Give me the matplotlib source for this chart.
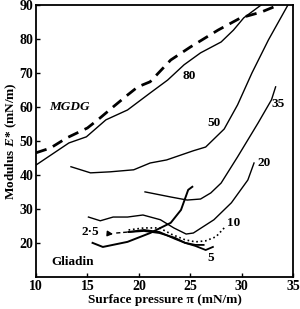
import matplotlib
matplotlib.use("Agg")
import matplotlib.pyplot as plt

plt.rcParams['font.family'] = ['Liberation Serif', 'DejaVu Serif']
plt.rcParams['font.weight'] = 'bold'
plt.rcParams['axes.labelweight'] = 'bold'
plt.rcParams['mathtext.fontset'] = 'custom'
plt.rcParams['mathtext.it'] = 'Liberation Serif:italic:bold'
plt.rcParams['mathtext.rm'] = 'Liberation Serif:bold'

# MGDG (dashed)
mgdg_x = [10, 11.4, 13.0, 15.0, 16.25, 17.5, 18.9, 19.9, 21.1, 23.1, 25.0, 27.7, 29.9, 31.9, 33.6]
mgdg_y = [46.5, 47.9, 50.9, 53.8, 56.8, 60.0, 63.5, 65.9, 67.4, 73.8, 77.6, 82.6, 86.2, 87.9, 90]

# labelled curves
c80_x = [10, 13.2, 14.9, 16.8, 18.9, 21.1, 22.8, 24.4, 26.0, 28.0, 29.2, 30.2, 31.9]
c80_y = [42.9, 49.4, 51.2, 56.2, 59.1, 64.1, 67.9, 72.4, 75.9, 79.1, 82.6, 86.2, 90]

c50_x = [13.4, 15.3, 17.2, 19.5, 21.1, 22.7, 25.3, 26.5, 28.3, 29.6, 31.0, 32.6, 34.5]
c50_y = [42.4, 40.6, 40.9, 41.5, 43.5, 44.4, 47.1, 48.2, 53.5, 60.6, 70.0, 79.7, 90]

c35_x = [20.6, 23.1, 24.7, 26.0, 27.0, 28.0, 29.6, 31.6, 32.9, 33.3]
c35_y = [35.0, 33.5, 32.6, 32.9, 34.7, 37.6, 45.3, 55.3, 62.1, 65.9]

c20_x = [15.1, 16.25, 17.5, 18.9, 20.4, 22.1, 23.4, 24.6, 25.3, 27.3, 29.0, 30.6, 31.2]
c20_y = [27.6, 26.5, 27.6, 27.6, 28.2, 26.8, 24.4, 22.6, 22.9, 26.8, 31.8, 38.5, 43.5]

c10_x = [19.0, 20.5, 22.0, 23.2, 24.5, 25.5, 26.5, 27.5, 28.3]
c10_y = [23.8, 24.4, 24.4, 22.5, 20.9, 20.3, 20.6, 21.8, 24.4]

c5_x = [19.0, 20.5, 22.0, 23.5, 24.5, 25.5, 26.5, 27.2]
c5_y = [23.2, 23.5, 22.9, 21.5, 20.0, 19.1, 17.9, 18.8]

c25_dash_x = [17.8, 19.0]
c25_dash_y = [22.9, 23.2]
c25_x = [19.0, 20.5, 22.0, 23.5, 24.5, 25.5, 26.3]
c25_y = [23.2, 23.8, 23.2, 21.2, 20.0, 19.4, 19.4]

# gliadin (steep thick line)
gli_x = [15.5, 16.5, 18.9, 21.1, 23.1, 24.1, 24.8, 25.2]
gli_y = [20.0, 18.8, 20.3, 22.9, 25.9, 29.7, 35.6, 36.5]

fig = plt.figure(figsize=(3.0, 3.09), dpi=100)
ax = fig.add_axes([0.12, 0.104, 0.857, 0.88])

ax.plot(mgdg_x, mgdg_y, 'k--', lw=2.0, dashes=(4, 2.5))
ax.plot(c80_x, c80_y, 'k-', lw=1.0)
ax.plot(c50_x, c50_y, 'k-', lw=1.0)
ax.plot(c35_x, c35_y, 'k-', lw=1.0)
ax.plot(c20_x, c20_y, 'k-', lw=1.0)
ax.plot(c10_x, c10_y, 'k:', lw=1.2)
ax.plot(c5_x, c5_y, 'k-', lw=1.3)
ax.plot(c25_dash_x, c25_dash_y, 'k--', lw=1.0, dashes=(3, 2))
ax.plot(c25_x, c25_y, 'k-', lw=1.3)
ax.plot(gli_x, gli_y, 'k-', lw=1.4)

fs = 9.5
ax.text(13.3, 60, 'MGDG', fontsize=fs, style='italic', ha='center', va='center')
ax.text(24.9, 69.1, '80', fontsize=fs, ha='center', va='center')
ax.text(27.3, 55.3, '50', fontsize=fs, ha='center', va='center')
ax.text(33.5, 60.9, '35', fontsize=fs, ha='center', va='center')
ax.text(32.2, 43.5, '20', fontsize=fs, ha='center', va='center')
ax.text(29.2, 25.9, '10', fontsize=fs, ha='center', va='center')
ax.text(27.0, 15.6, '5', fontsize=fs, ha='center', va='center')
ax.text(13.6, 14.4, 'Gliadin', fontsize=fs, ha='center', va='center')
ax.annotate('2·5', xy=(17.5, 22.6), xytext=(15.3, 23.2), fontsize=fs,
            ha='center', va='center',
            arrowprops=dict(arrowstyle='-|>', color='k', lw=1.0,
                            shrinkA=6, shrinkB=0, mutation_scale=8))

ax.set_xlim(10, 35)
ax.set_ylim(10, 90)
ax.set_xticks([10, 15, 20, 25, 30, 35])
ax.set_yticks([20, 30, 40, 50, 60, 70, 80, 90])
ax.tick_params(direction='in', length=3, width=1, labelsize=10, pad=2)
for s in ax.spines.values():
    s.set_linewidth(1.3)
ax.set_xlabel('Surface pressure π (mN/m)', fontsize=9.5, labelpad=1)
ax.set_ylabel('Modulus $E$* (mN/m)', fontsize=9.5, labelpad=0)

fig.savefig('out.png', dpi=100)
